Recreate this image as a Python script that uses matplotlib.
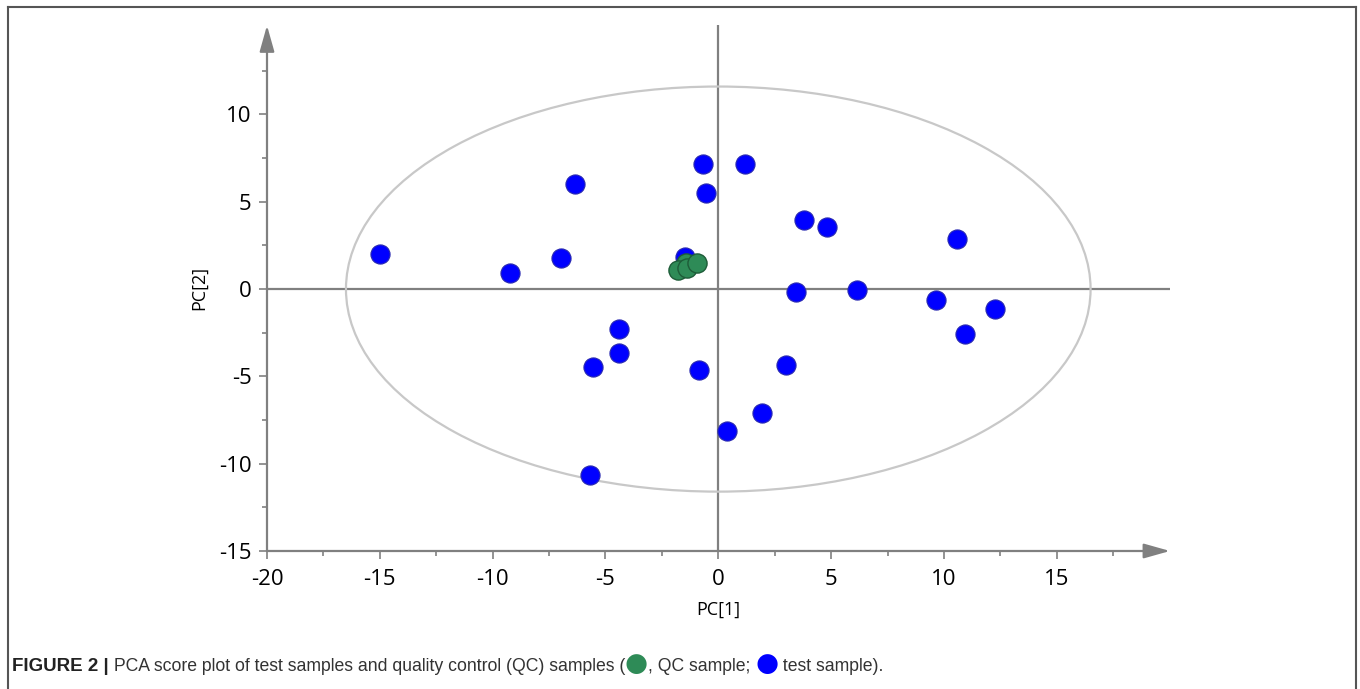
import matplotlib
matplotlib.use("Agg")
import matplotlib.pyplot as plt
import numpy as np
from matplotlib.patches import Ellipse
from matplotlib.lines import Line2D
from matplotlib.offsetbox import TextArea, HPacker, AnchoredOffsetbox

plt.rcParams["axes.unicode_minus"] = False

# test samples (PC[1], PC[2])
test_pc1 = [-15.0, -9.24, -6.98, -6.35, -4.42, -4.42, -5.53, -5.69, -0.68, 1.17,
            -0.55, -1.48, 3.79, 4.81, 10.57, 3.43, 6.13, 9.63, 12.25, 10.92,
            -0.86, 2.99, 1.93, 0.38]
test_pc2 = [2.0, 0.93, 1.78, 6.0, -2.28, -3.65, -4.44, -10.67, 7.15, 7.15,
            5.49, 1.85, 3.95, 3.55, 2.87, -0.16, -0.05, -0.62, -1.13, -2.56,
            -4.61, -4.32, -7.12, -8.1]

# QC samples
qc_pc1 = [-1.45, -1.78, -1.38, -0.93]
qc_pc2 = [1.5, 1.08, 1.19, 1.51]

# Hotelling T2 ellipse semi-axes
ell_a = 16.5
ell_b = 11.6

xticks = [-20, -15, -10, -5, 0, 5, 10, 15]
yticks = [-15, -10, -5, 0, 5, 10]

gray = "#808080"

fig = plt.figure(figsize=(13.6, 6.89), dpi=100)
ax = fig.add_axes([267 / 1360, 0.2003, 903 / 1360, 0.7628])
ax.set_xlim(-20, 20.02)
ax.set_ylim(-15, 15.1)

for s in ax.spines.values():
    s.set_visible(False)

# axes with arrow heads
arrow_kw = dict(arrowstyle="-|>,head_length=1.6,head_width=0.45", color=gray, lw=1.6,
                shrinkA=0, shrinkB=0)
ax.annotate("", xy=(-20, 15.1), xytext=(-20, -15), arrowprops=arrow_kw, annotation_clip=False)
ax.annotate("", xy=(20.02, -15), xytext=(-20, -15), arrowprops=arrow_kw, annotation_clip=False)

# cross hair
ax.plot([0, 0], [-15, 15.1], color=gray, lw=1.6, zorder=1)
ax.plot([-20, 20.02], [0, 0], color=gray, lw=1.6, zorder=1)

ax.add_patch(Ellipse((0, 0), 2 * ell_a, 2 * ell_b, fill=False, ec="#c8c8c8", lw=1.6, zorder=1))

ax.scatter(test_pc1, test_pc2, s=190, c="#0000ff", edgecolors="#2a2ab0", linewidths=0.8, zorder=3)
ax.scatter(qc_pc1, qc_pc2, s=190, c="#2e8b57", edgecolors="#1d5c38", linewidths=1.0, zorder=4)

ax.set_xticks(xticks)
ax.set_yticks(yticks)
ax.set_xticks(np.arange(-17.5, 18, 5), minor=True)
ax.set_yticks(np.arange(-12.5, 13, 5), minor=True)
ax.tick_params(which="major", length=6, width=1.2, color=gray, labelsize=16)
ax.tick_params(axis="x", which="major", pad=7)
ax.tick_params(axis="y", which="major", pad=5)
ax.tick_params(which="minor", length=3.5, width=1.2, color=gray)
for lab in ax.get_xticklabels() + ax.get_yticklabels():
    lab.set_family("Open Sans")

ax.set_xlabel("PC[1]", fontsize=13, family="Open Sans", labelpad=8)
ax.set_ylabel("PC[2]", fontsize=13, family="Open Sans", labelpad=8)

# frame around the figure
fig.add_artist(Line2D([7.5 / 1360, 7.5 / 1360], [0, 1 - 6.5 / 689], color="#555555", lw=1.5))
fig.add_artist(Line2D([7.5 / 1360, 1356 / 1360], [1 - 6.5 / 689, 1 - 6.5 / 689], color="#555555", lw=1.5))
fig.add_artist(Line2D([1356 / 1360, 1356 / 1360], [0, 1 - 6.5 / 689], color="#555555", lw=1.5))

# caption
cs = 12.7
cap_font = "Liberation Sans"
parts = [
    TextArea("FIGURE 2 |", textprops=dict(family=cap_font, size=cs + 0.8, weight="bold", color="#222222")),
    TextArea(" PCA score plot of test samples and quality control (QC) samples (",
             textprops=dict(family=cap_font, size=cs, color="#333333")),
    TextArea("\u25CF", textprops=dict(family="DejaVu Sans", size=19, color="#2e8b57")),
    TextArea(", QC sample; ", textprops=dict(family=cap_font, size=cs, color="#333333")),
    TextArea("\u25CF", textprops=dict(family="DejaVu Sans", size=19, color="#0000ff")),
    TextArea(" test sample).", textprops=dict(family=cap_font, size=cs, color="#333333")),
]
cap = HPacker(children=parts, align="baseline", pad=0, sep=0)
box = AnchoredOffsetbox(loc="lower left", child=cap, bbox_to_anchor=(12 / 1360, 12 / 689),
                        bbox_transform=fig.transFigure, frameon=False, pad=0, borderpad=0)
fig.add_artist(box)

fig.savefig("out.png", dpi=100)
